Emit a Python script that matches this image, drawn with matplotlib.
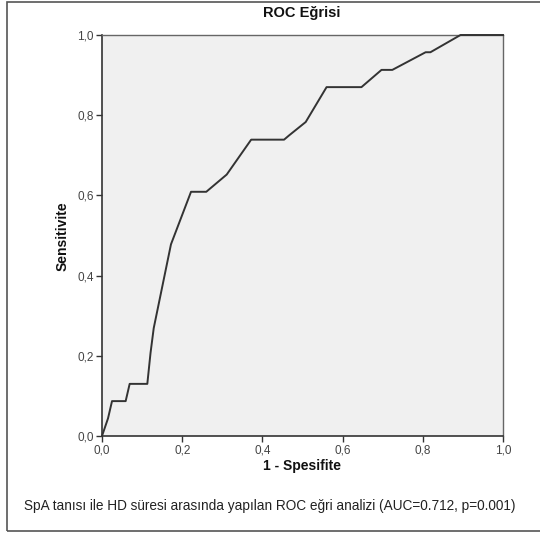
import matplotlib
matplotlib.use("Agg")
import matplotlib.pyplot as plt
from matplotlib.patches import Rectangle
from matplotlib.ticker import FuncFormatter

plt.rcParams['font.family'] = ['Liberation Sans', 'DejaVu Sans']

fpr = [0.0, 0.015, 0.025, 0.059, 0.069, 0.113, 0.121, 0.129, 0.172, 0.222, 0.26,
       0.311, 0.372, 0.454, 0.467, 0.508, 0.56, 0.647, 0.697, 0.724, 0.807, 0.819,
       0.894, 1.0]
tpr = [0.0, 0.044, 0.087, 0.087, 0.13, 0.13, 0.207, 0.269, 0.478, 0.609, 0.609,
       0.652, 0.739, 0.739, 0.75, 0.783, 0.870, 0.870, 0.913, 0.913, 0.957, 0.957,
       1.0, 1.0]
ticks = [0.0, 0.2, 0.4, 0.6, 0.8, 1.0]
title = "ROC Eğrisi"
xlabel = "1 - Spesifite"
ylabel = "Sensitivite"
caption = "SpA tanısı ile HD süresi arasında yapılan ROC eğri analizi (AUC=0.712, p=0.001)"

W, H = 540, 536
fig = plt.figure(figsize=(W / 100, H / 100), dpi=100)
fig.patch.set_facecolor('white')

# outer frame
fig.patches.append(Rectangle((7 / W, 1 - 531 / H), (W + 5 - 7) / W, (531 - 2) / H,
                             transform=fig.transFigure, fill=False,
                             edgecolor='#555555', linewidth=1.2))

left, right, top, bottom = 102, 503, 35, 436
ax = fig.add_axes([left / W, 1 - bottom / H, (right - left) / W, (bottom - top) / H])
ax.set_facecolor('#F0F0F0')
ax.plot(fpr, tpr, color='#333333', linewidth=1.4, clip_on=False, zorder=5)
ax.set_xlim(0, 1)
ax.set_ylim(0, 1)
ax.set_xticks(ticks)
ax.set_yticks(ticks)
fmt = FuncFormatter(lambda v, p: f"{v:.1f}".replace('.', ','))
ax.xaxis.set_major_formatter(fmt)
ax.yaxis.set_major_formatter(fmt)
ax.tick_params(direction='out', length=4, width=1, colors='#333333', labelsize=8.5,
               labelcolor='#444444', pad=2)
for s in ['left', 'bottom']:
    ax.spines[s].set_color('#333333')
    ax.spines[s].set_linewidth(1.2)
for s in ['top', 'right']:
    ax.spines[s].set_color('#666666')
    ax.spines[s].set_linewidth(1.0)

fig.text(302 / W, 1 - 13 / H, title, ha='center', va='center', fontsize=10.5,
         fontweight='bold', color='#111111')
fig.text(63 / W, 1 - 236 / H, ylabel, ha='center', va='center', rotation=90,
         fontsize=10, fontweight='bold', color='#111111')
fig.text(302 / W, 1 - 466 / H, xlabel, ha='center', va='center', fontsize=10,
         fontweight='bold', color='#111111')
fig.text(270 / W, 1 - 506 / H, caption, ha='center', va='center', fontsize=9.8,
         color='#222222')

fig.savefig('out.png', dpi=100)
